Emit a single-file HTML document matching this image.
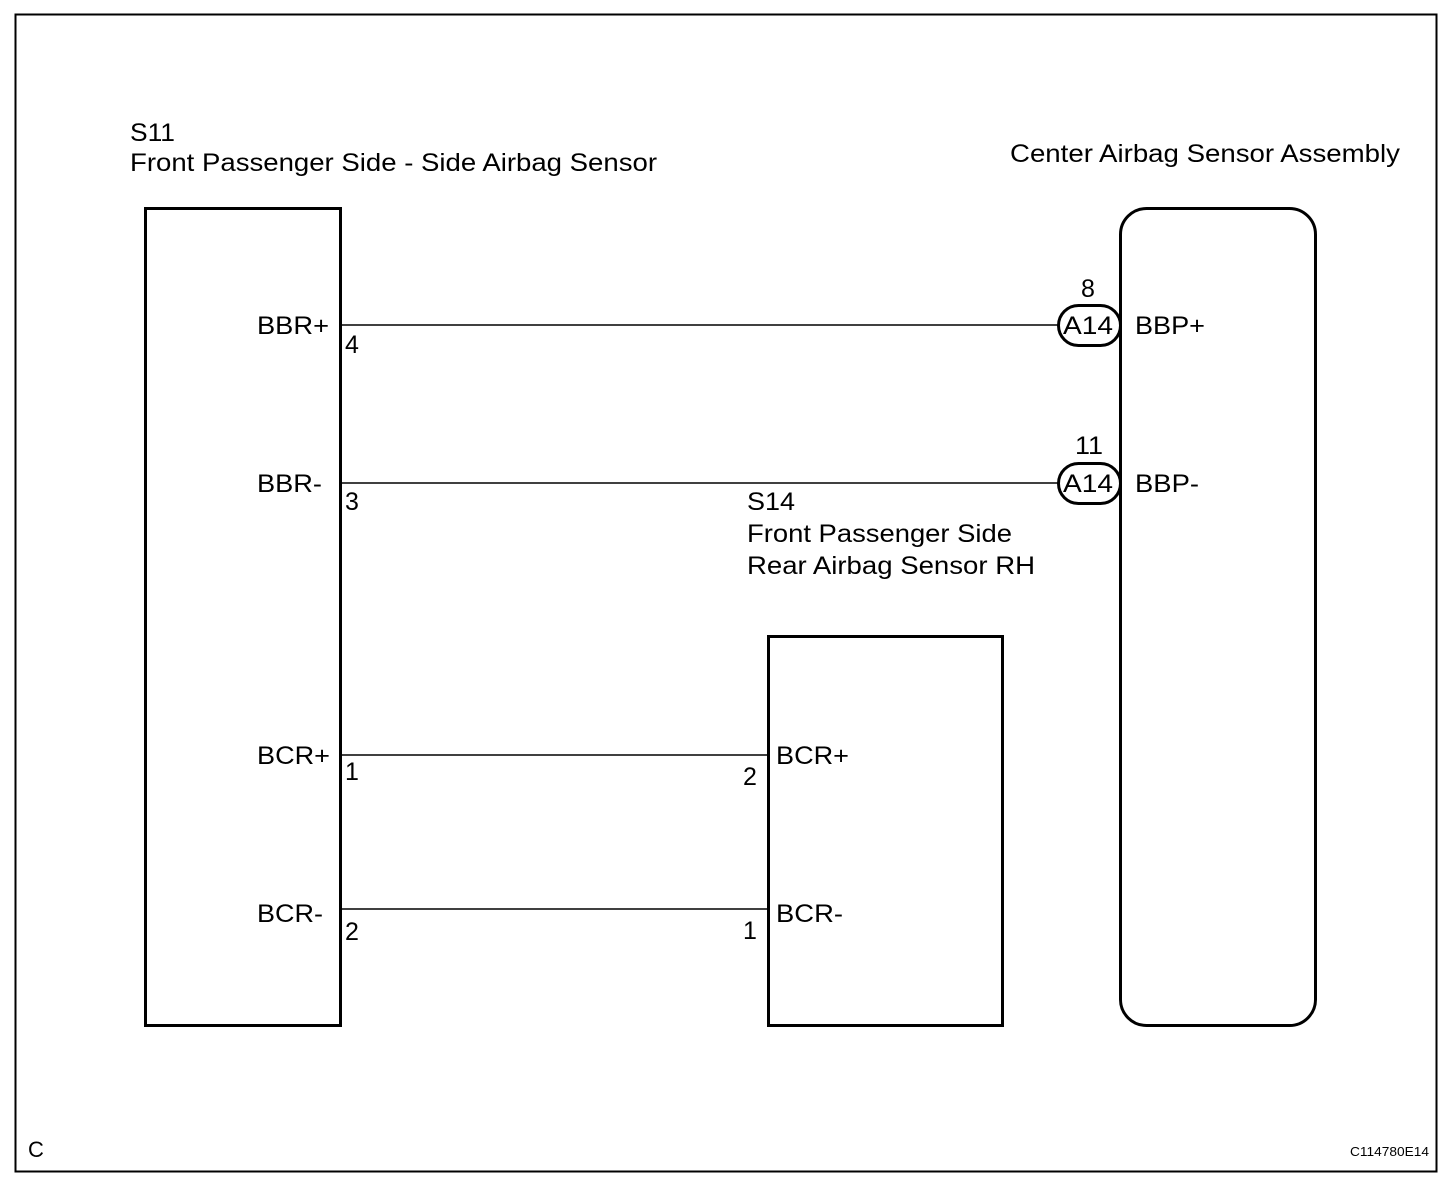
<!DOCTYPE html>
<html><head><meta charset="utf-8"><style>
html,body{margin:0;padding:0;background:#fff;}
svg{display:block;}
text{font-family:"Liberation Sans",Arial,sans-serif;font-size:25px;fill:#000;}
</style></head><body>
<svg width="1456" height="1180" viewBox="0 0 1456 1180" xmlns="http://www.w3.org/2000/svg">
<rect x="15.5" y="14.5" width="1421" height="1157" fill="none" stroke="#000" stroke-width="2"/>
<text x="130" y="141" textLength="45" lengthAdjust="spacingAndGlyphs">S11</text>
<text x="130" y="171" textLength="527" lengthAdjust="spacingAndGlyphs">Front Passenger Side - Side Airbag Sensor</text>
<text x="1010" y="162" textLength="390" lengthAdjust="spacingAndGlyphs">Center Airbag Sensor Assembly</text>
<rect x="145.5" y="208.5" width="195" height="817" fill="none" stroke="#000" stroke-width="3"/>
<rect x="1120.5" y="208.5" width="195" height="817" rx="26" fill="none" stroke="#000" stroke-width="3"/>
<rect x="768.5" y="636.5" width="234" height="389" fill="none" stroke="#000" stroke-width="3"/>
<g stroke="#000" stroke-width="1.5">
<line x1="341" y1="325" x2="1059" y2="325"/>
<line x1="341" y1="483" x2="1059" y2="483"/>
<line x1="341" y1="755" x2="769" y2="755"/>
<line x1="341" y1="909" x2="769" y2="909"/>
</g>
<rect x="1058.5" y="305.5" width="62" height="40" rx="20" fill="#fff" stroke="#000" stroke-width="3"/>
<rect x="1058.5" y="463.5" width="62" height="40" rx="20" fill="#fff" stroke="#000" stroke-width="3"/>
<text x="1063" y="334" textLength="50" lengthAdjust="spacingAndGlyphs">A14</text>
<text x="1063" y="492" textLength="50" lengthAdjust="spacingAndGlyphs">A14</text>
<text x="1081" y="297">8</text>
<text x="1075" y="454" textLength="28" lengthAdjust="spacingAndGlyphs">11</text>
<text x="1135" y="334" textLength="70" lengthAdjust="spacingAndGlyphs">BBP+</text>
<text x="1135" y="492" textLength="64" lengthAdjust="spacingAndGlyphs">BBP-</text>
<text x="257" y="334" textLength="72" lengthAdjust="spacingAndGlyphs">BBR+</text>
<text x="257" y="492" textLength="65" lengthAdjust="spacingAndGlyphs">BBR-</text>
<text x="257" y="764" textLength="73" lengthAdjust="spacingAndGlyphs">BCR+</text>
<text x="257" y="922" textLength="66" lengthAdjust="spacingAndGlyphs">BCR-</text>
<text x="345" y="353">4</text>
<text x="345" y="510">3</text>
<text x="345" y="780">1</text>
<text x="345" y="940">2</text>
<text x="743" y="785">2</text>
<text x="743" y="939">1</text>
<text x="776" y="764" textLength="73" lengthAdjust="spacingAndGlyphs">BCR+</text>
<text x="776" y="922" textLength="67" lengthAdjust="spacingAndGlyphs">BCR-</text>
<text x="747" y="510" textLength="48" lengthAdjust="spacingAndGlyphs">S14</text>
<text x="747" y="542" textLength="265" lengthAdjust="spacingAndGlyphs">Front Passenger Side</text>
<text x="747" y="574" textLength="288" lengthAdjust="spacingAndGlyphs">Rear Airbag Sensor RH</text>
<text x="28" y="1157" style="font-size:22px">C</text>
<text x="1350" y="1156" style="font-size:13px" textLength="79" lengthAdjust="spacingAndGlyphs">C114780E14</text>
</svg>
</body></html>
